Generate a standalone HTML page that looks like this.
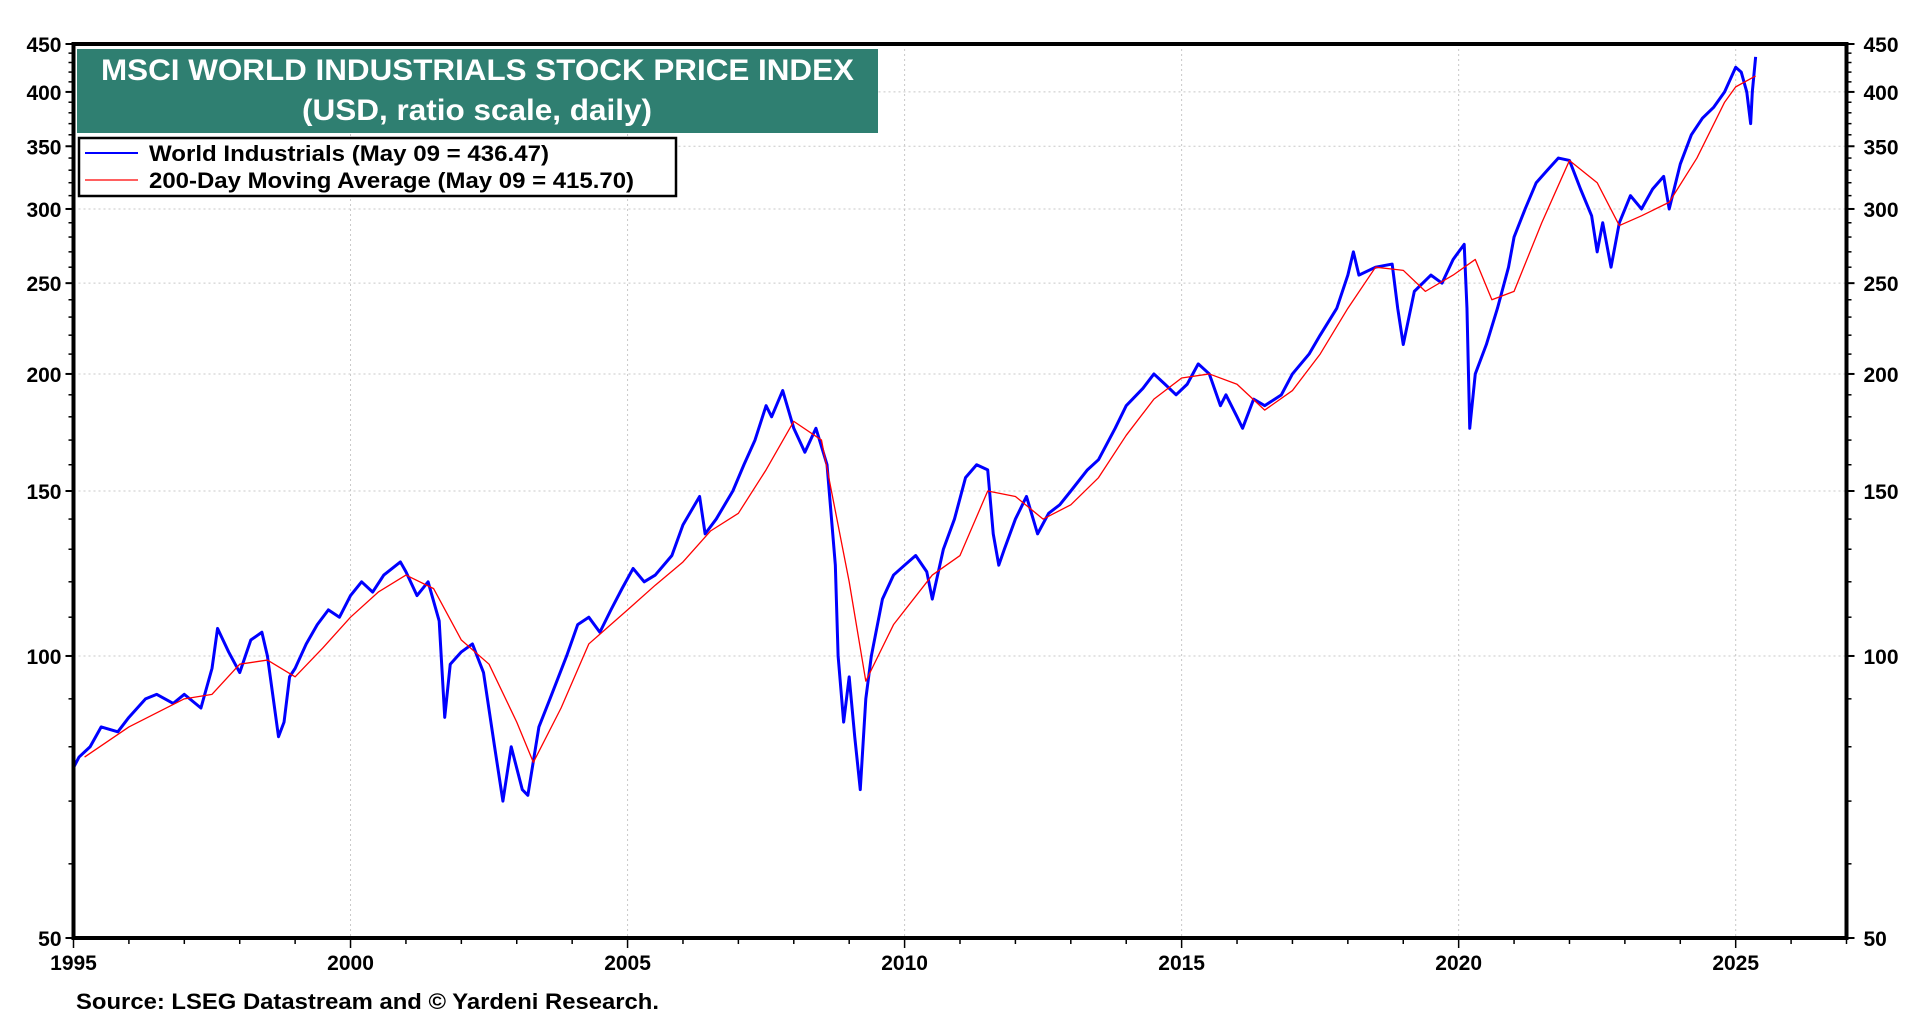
<!DOCTYPE html>
<html><head><meta charset="utf-8"><style>
body{margin:0;background:#fff;width:1920px;height:1020px;overflow:hidden;font-family:"Liberation Sans",sans-serif}
svg text{font-family:"Liberation Sans",sans-serif;font-weight:bold}
</style></head><body>
<svg id="chart" width="1920" height="1020" xmlns="http://www.w3.org/2000/svg">
<g id="grid"></g>
<g id="axes"></g>
<g id="series"></g>
<rect x="73.5" y="44" width="1773" height="894" fill="none" stroke="#000" stroke-width="4"/>
<rect x="77" y="49" width="801" height="84" fill="#2f7f71"/>
<text x="101" y="80" fill="#fff" font-size="30" textLength="753" lengthAdjust="spacingAndGlyphs">MSCI WORLD INDUSTRIALS STOCK PRICE INDEX</text>
<text x="302" y="120" fill="#fff" font-size="30" textLength="350" lengthAdjust="spacingAndGlyphs">(USD, ratio scale, daily)</text>
<g>
<rect x="79" y="138" width="597" height="58" fill="#fff" stroke="#000" stroke-width="2.5"/>
<line x1="85" y1="153" x2="138" y2="153" stroke="#0000ff" stroke-width="2"/>
<text x="149" y="161" font-size="22" textLength="400" lengthAdjust="spacingAndGlyphs">World Industrials (May 09 = 436.47)</text>
<line x1="85" y1="180" x2="138" y2="180" stroke="#ff0000" stroke-width="1.2"/>
<text x="149" y="188" font-size="22" textLength="485" lengthAdjust="spacingAndGlyphs">200-Day Moving Average (May 09 = 415.70)</text>
</g>
<text x="76" y="1009" font-size="22" textLength="583" lengthAdjust="spacingAndGlyphs">Source: LSEG Datastream and © Yardeni Research.</text>
</svg>
<script>
const yTicks=[50,100,150,200,250,300,350,400,450];
const xTickYears=[1995,2000,2005,2010,2015,2020,2025];
const wiX=[1995.0,1995.1,1995.3,1995.5,1995.8,1996.0,1996.3,1996.5,1996.8,1997.0,1997.3,1997.5,1997.6,1997.8,1998.0,1998.2,1998.4,1998.5,1998.7,1998.8,1998.9,1999.0,1999.2,1999.4,1999.6,1999.8,2000.0,2000.2,2000.4,2000.6,2000.9,2001.0,2001.2,2001.4,2001.6,2001.7,2001.8,2002.0,2002.2,2002.4,2002.6,2002.75,2002.9,2003.1,2003.2,2003.4,2003.6,2003.9,2004.1,2004.3,2004.5,2004.7,2004.9,2005.1,2005.3,2005.5,2005.8,2006.0,2006.3,2006.4,2006.6,2006.9,2007.1,2007.3,2007.5,2007.6,2007.8,2008.0,2008.2,2008.4,2008.6,2008.75,2008.8,2008.9,2009.0,2009.1,2009.2,2009.3,2009.4,2009.6,2009.8,2010.0,2010.2,2010.4,2010.5,2010.7,2010.9,2011.1,2011.3,2011.5,2011.6,2011.7,2011.8,2012.0,2012.2,2012.4,2012.6,2012.8,2013.0,2013.3,2013.5,2013.8,2014.0,2014.3,2014.5,2014.7,2014.9,2015.1,2015.3,2015.5,2015.7,2015.8,2016.0,2016.1,2016.3,2016.5,2016.8,2017.0,2017.3,2017.5,2017.8,2018.0,2018.1,2018.2,2018.5,2018.8,2018.9,2019.0,2019.2,2019.5,2019.7,2019.9,2020.0,2020.1,2020.15,2020.2,2020.3,2020.5,2020.7,2020.9,2021.0,2021.2,2021.4,2021.6,2021.8,2022.0,2022.2,2022.4,2022.5,2022.6,2022.75,2022.9,2023.1,2023.3,2023.5,2023.7,2023.8,2024.0,2024.2,2024.4,2024.6,2024.8,2025.0,2025.1,2025.2,2025.27,2025.3,2025.36];
const wiV=[76,78,80,84,83,86,90,91,89,91,88,97,107,101,96,104,106,100,82,85,95,97,103,108,112,110,116,120,117,122,126,123,116,120,109,86,98,101,103,96,80,70,80,72,71,84,90,100,108,110,106,112,118,124,120,122,128,138,148,135,140,150,160,170,185,180,192,175,165,175,160,125,100,85,95,82,72,90,100,115,122,125,128,123,115,130,140,155,160,158,135,125,130,140,148,135,142,145,150,158,162,175,185,193,200,195,190,195,205,200,185,190,180,175,188,185,190,200,210,220,235,255,270,255,260,262,235,215,245,255,250,265,270,275,235,175,200,215,235,260,280,300,320,330,340,338,315,295,270,290,260,290,310,300,315,325,300,335,360,375,385,400,425,420,400,370,400,436];
const maX=[1995.2,1996.0,1997.0,1997.5,1998.0,1998.5,1999.0,1999.5,2000.0,2000.5,2001.0,2001.5,2002.0,2002.5,2003.0,2003.3,2003.8,2004.3,2005.0,2005.5,2006.0,2006.5,2007.0,2007.5,2008.0,2008.5,2009.0,2009.3,2009.8,2010.5,2011.0,2011.5,2012.0,2012.5,2013.0,2013.5,2014.0,2014.5,2015.0,2015.5,2016.0,2016.5,2017.0,2017.5,2018.0,2018.5,2019.0,2019.4,2019.9,2020.3,2020.6,2021.0,2021.5,2022.0,2022.5,2022.9,2023.3,2023.8,2024.3,2024.8,2025.0,2025.36];
const maV=[78,84,90,91,98,99,95,102,110,117,122,118,104,98,85,77,88,103,112,119,126,136,142,158,178,170,120,94,108,122,128,150,148,140,145,155,172,188,198,200,195,183,192,210,235,260,258,245,255,265,240,245,290,338,320,288,295,305,340,390,405,416];

const L=73.5,R=1846.5,T=44,B=938,X0=1995,X1=2027,V0=50,V1=450;
const xs=y=>L+(y-X0)/(X1-X0)*(R-L);
const ys=v=>T+(Math.log(V1)-Math.log(v))/(Math.log(V1)-Math.log(V0))*(B-T);
const NS="http://www.w3.org/2000/svg";
function mk(tag,attrs,parent){const e=document.createElementNS(NS,tag);for(const k in attrs)e.setAttribute(k,attrs[k]);parent.appendChild(e);return e;}
const grid=document.getElementById('grid'),axes=document.getElementById('axes'),series=document.getElementById('series');
yTicks.forEach(v=>{
  const y=ys(v);
  if(v>50&&v<450){const g=mk('line',{x1:L,x2:R,y1:y,y2:y,stroke:'#c8c8c8','stroke-dasharray':'2,3','stroke-width':1},grid);
  
  }
  const a=mk('text',{x:L-12,y:y+8,'font-size':21,'text-anchor':'end'},axes);a.textContent=v;
  
  
  const b=mk('text',{x:R+17,y:y+8,'font-size':21},axes);b.textContent=v;
  
  
  mk('line',{x1:L-8,x2:L,y1:y,y2:y,stroke:'#000','stroke-width':2},axes);
  mk('line',{x1:R,x2:R+8,y1:y,y2:y,stroke:'#000','stroke-width':2},axes);
});
for(let v=60;v<450;v+=10){if(v%50===0)continue;const y=ys(v);
  mk('line',{x1:L-5,x2:L,y1:y,y2:y,stroke:'#000','stroke-width':1.5},axes);
  mk('line',{x1:R,x2:R+5,y1:y,y2:y,stroke:'#000','stroke-width':1.5},axes);}
for(let yr=1995;yr<=2027;yr++){const x=xs(yr);const major=yr%5===0;
  mk('line',{x1:x,x2:x,y1:B,y2:B+(major?10:6),stroke:'#000','stroke-width':1.5},axes);}
xTickYears.forEach(yr=>{const x=xs(yr);
  if(yr>1995){const g=mk('line',{x1:x,x2:x,y1:T,y2:B,stroke:'#c8c8c8','stroke-dasharray':'2,3','stroke-width':1},grid);
  
  }
  const t=mk('text',{x:x,y:B+32,'font-size':21,'text-anchor':'middle'},axes);t.textContent=yr;
  
  
});
const pw=mk('polyline',{points:wiX.map((x,i)=>xs(x)+','+ys(wiV[i])).join(' '),fill:'none',stroke:'#0000ff','stroke-width':3,'stroke-linejoin':'round'},series);


const pm=mk('polyline',{points:maX.map((x,i)=>xs(x)+','+ys(maV[i])).join(' '),fill:'none',stroke:'#ff0000','stroke-width':1.3,'stroke-linejoin':'round'},series);


</script>
</body></html>
